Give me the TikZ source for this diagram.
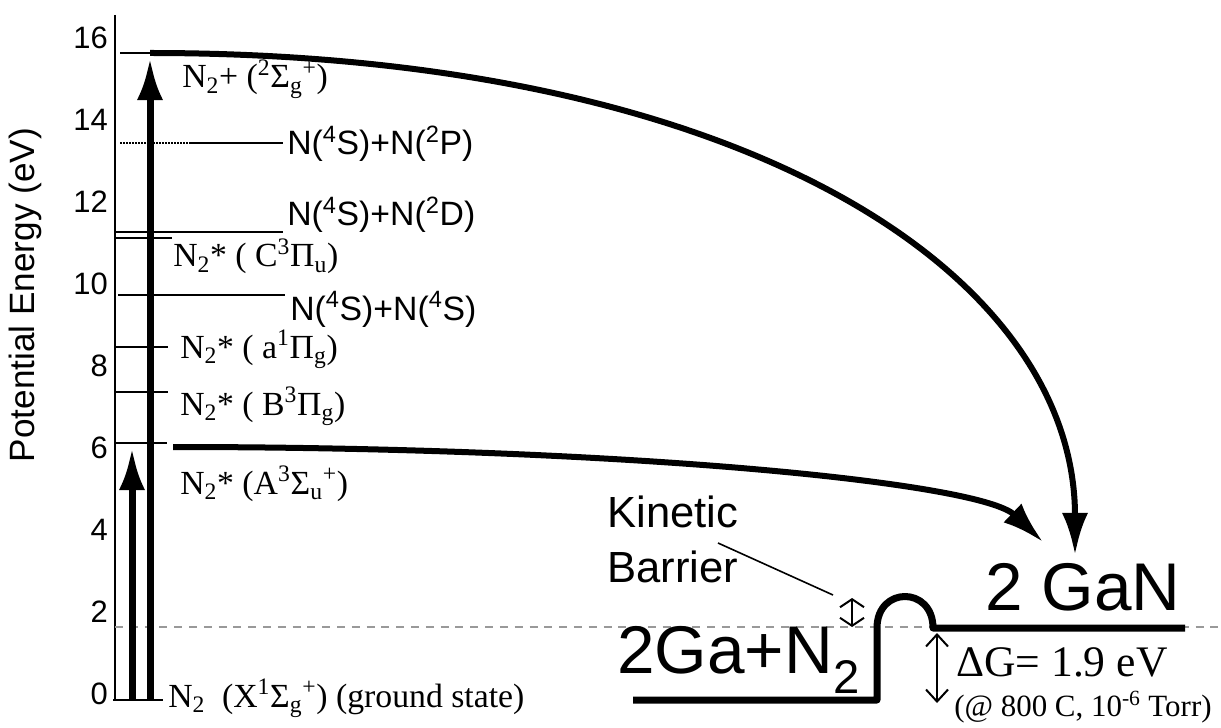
\documentclass[tikz,border=0pt]{standalone}
\usepackage{fontspec}
\setmainfont{Liberation Serif}
\setsansfont{Liberation Sans}
\usetikzlibrary{arrows.meta, positioning}

\tikzset{
  lvl/.style={line width=0.04cm},
  shaft/.style={line width=0.175cm, -{Latex[length=1.05cm, width=0.65cm]}},
  route/.style={line width=0.15cm, -{Latex[length=1.05cm, width=0.65cm]}},
  gaparrow/.style={line width=0.05cm, {Straight Barb[length=0.2cm, width=0.6cm]}-{Straight Barb[length=0.2cm, width=0.6cm]}},
  dgarrow/.style={line width=0.05cm, {Straight Barb[length=0.3cm, width=0.55cm]}-{Straight Barb[length=0.3cm, width=0.55cm]}},
  molab/.style={anchor=base west, inner sep=0pt, font=\fontsize{24}{28}\selectfont},
  atomlab/.style={anchor=base west, inner sep=0pt, font=\sffamily\fontsize{24}{28}\selectfont},
  biglab/.style={anchor=base west, inner sep=0pt, font=\sffamily\fontsize{48}{56}\selectfont},
}

\begin{document}
\begin{tikzpicture}[x=0.025cm, y=-0.025cm, >=Stealth]
  \useasboundingbox (0,0) rectangle (1221,728);

  % Achse
  \draw[line width=0.05cm] (115,15) -- (115,700);
  \foreach \e in {0,2,...,16}
    \node[anchor=east, inner sep=0pt, font=\sffamily\fontsize{22}{26}\selectfont] (t\e) at (108,{694-41*\e}) {\e};
  \node[rotate=90, font=\sffamily\fontsize{25}{30}\selectfont] (ylab) at (25,295) {Potential Energy (eV)};

  % Referenzlinie
  \draw[gray!80, line width=0.035cm, dash pattern=on 0.2cm off 0.17cm] (115,627) -- (1221,627);

  % Niveaus
  \draw[lvl] (120,53) -- (150,53);
  \draw[lvl, densely dotted] (120,143) -- (190,143);
  \draw[lvl] (190,143) -- (283,143);
  \draw[lvl] (115,232) -- (283,232);
  \draw[lvl, line width=0.07cm] (115,238) -- (172,238);
  \draw[lvl] (118,295) -- (285,295);
  \draw[lvl] (115,347) -- (168,347);
  \draw[lvl] (115,392) -- (168,392);
  \draw[lvl] (115,443) -- (167,443);
  \draw[line width=0.07cm] (113,700) -- (163,700);

  % Beschriftung
  \node[molab] (ion) at (182,88) {N\textsubscript{2}+ (\textsuperscript{2}Σ\textsubscript{g}\textsuperscript{+})};
  \node[atomlab] (p2P) at (287,155) {N(\textsuperscript{4}S)+N(\textsuperscript{2}P)};
  \node[atomlab] (p2D) at (287,226) {N(\textsuperscript{4}S)+N(\textsuperscript{2}D)};
  \node[molab] (sC) at (173,267) {N\textsubscript{2}* ( C\textsuperscript{3}Π\textsubscript{u})};
  \node[atomlab] (p4S) at (290,320) {N(\textsuperscript{4}S)+N(\textsuperscript{4}S)};
  \node[molab] (sa) at (180,358) {N\textsubscript{2}* ( a\textsuperscript{1}Π\textsubscript{g})};
  \node[molab] (sB) at (180,415) {N\textsubscript{2}* ( B\textsuperscript{3}Π\textsubscript{g})};
  \node[molab] (sA) at (180,494) {N\textsubscript{2}* (A\textsuperscript{3}Σ\textsubscript{u}\textsuperscript{+})};
  \node[molab] (sX) at (168,707) {N\textsubscript{2}\ \ (X\textsuperscript{1}Σ\textsubscript{g}\textsuperscript{+}) (ground state)};

  % Anregung
  \coordinate (g1) at (132,700);
  \coordinate (a6) at (132,448);
  \coordinate (g2) at (150,700);
  \coordinate (a16) at (150,58);
  \draw[shaft] (g1) -- (a6);
  \draw[shaft] (g2) -- (a16);

  % Reaktionswege
  \coordinate (c16) at (150,53);
  \coordinate (c6) at (173,447);
  \coordinate (ganA) at (1075,555);
  \coordinate (ganB) at (1043,542);
  \draw[route] (c16) .. controls (750,53) and (1075,277) .. (ganA);
  \draw[route] (c6) .. controls (620,447) and (980,482) .. (ganB);

  % Energieprofil
  \draw[line width=0.175cm, line join=round] (633,700) -- (877,700) -- (877,628)
    .. controls (877,586) and (933,586) .. (933,628) -- (1185,628);
  \node[biglab] (react) at (617,673) {2Ga+N\textsubscript{2}};
  \node[biglab] (gan) at (985,610) {2 GaN};

  % Barriere
  \node[anchor=base west, inner sep=0pt, font=\sffamily\fontsize{31}{36}\selectfont] (kin) at (607,527) {Kinetic};
  \node[anchor=base west, inner sep=0pt, font=\sffamily\fontsize{31}{36}\selectfont] (bar) at (607,582) {Barrier};
  \coordinate (kbA) at (718,543);
  \coordinate (kbB) at (833,595);
  \draw[line width=0.04cm] (kbA) -- (kbB);
  \coordinate (bt) at (852,598);
  \coordinate (bb) at (852,627);
  \draw[gaparrow] (bt) -- (bb);

  % Delta G
  \coordinate (dgt) at (937,633);
  \coordinate (dgb) at (937,703);
  \draw[dgarrow] (dgt) -- (dgb);
  \node[anchor=base west, inner sep=0pt, font=\fontsize{31}{36}\selectfont] (dG) at (956,676) {ΔG= 1.9 eV};
  \node[anchor=base west, inner sep=0pt, font=\fontsize{22}{26}\selectfont] (cond) at (954,716) {(@ 800 C, 10\textsuperscript{-6} Torr)};
\end{tikzpicture}
\end{document}
